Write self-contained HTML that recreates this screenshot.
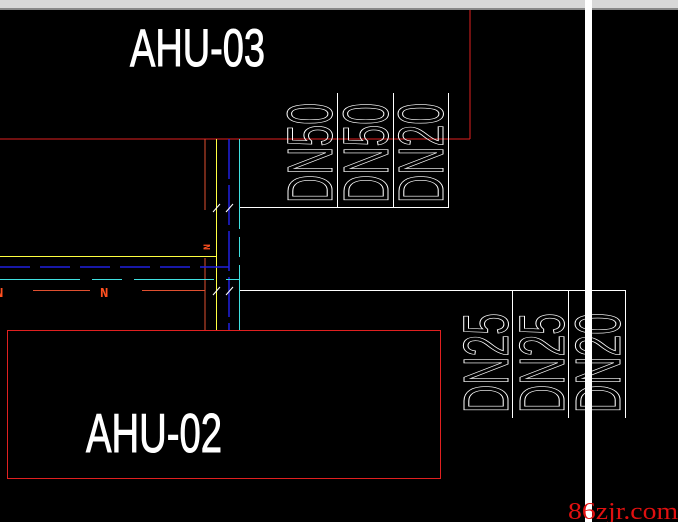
<!DOCTYPE html>
<html><head><meta charset="utf-8"><style>
html,body{margin:0;padding:0;background:#000;width:678px;height:522px;overflow:hidden}
svg{display:block}
</style></head><body>
<svg width="678" height="522" viewBox="0 0 678 522" xmlns="http://www.w3.org/2000/svg">
<rect x="0" y="0" width="678" height="522" fill="#000"/>
<rect x="0" y="0" width="678" height="9" fill="#d8d8d8"/>
<rect x="0" y="8" width="678" height="2" fill="#888"/>
<rect x="585" y="0" width="7" height="522" fill="#fff"/>

<line x1="0" y1="139" x2="470" y2="139" stroke="#e02020" stroke-width="1"/>
<line x1="470" y1="10" x2="470" y2="139" stroke="#e02020" stroke-width="1"/>
<text x="130" y="66" font-family="Liberation Sans, sans-serif" font-size="53" fill="#fff" stroke="#fff" stroke-width="1" textLength="135" lengthAdjust="spacingAndGlyphs">AHU-03</text>

<line x1="205" y1="139" x2="205" y2="210" stroke="#e05030" stroke-width="1"/>
<line x1="205" y1="258" x2="205" y2="330" stroke="#e05030" stroke-width="1"/>
<line x1="216.5" y1="139" x2="216.5" y2="330" stroke="#ffff40" stroke-width="1"/>
<line x1="229" y1="139" x2="229" y2="330" stroke="#2020e0" stroke-width="1.5" stroke-dasharray="40,6"/>
<line x1="239.5" y1="139" x2="239.5" y2="330" stroke="#40e0e0" stroke-width="1" stroke-dasharray="90,8,20,8"/>

<line x1="0" y1="256.5" x2="216" y2="256.5" stroke="#ffff40" stroke-width="1"/>
<line x1="0" y1="267" x2="229" y2="267" stroke="#2020e0" stroke-width="1.5" stroke-dasharray="30,10"/>
<line x1="0" y1="279.5" x2="239" y2="279.5" stroke="#40e0e0" stroke-width="1" stroke-dasharray="80,12,30,12"/>
<line x1="33" y1="290.5" x2="90" y2="290.5" stroke="#e05030" stroke-width="1"/>
<line x1="142" y1="290.5" x2="205" y2="290.5" stroke="#e05030" stroke-width="1"/>
<text x="100" y="297" font-family="Liberation Mono, monospace" font-size="14" font-weight="bold" fill="#ff5020">N</text>
<text x="-5" y="297" font-family="Liberation Mono, monospace" font-size="14" font-weight="bold" fill="#ff5020">N</text>
<text transform="translate(210,250) rotate(-90)" font-family="Liberation Mono, monospace" font-size="10" font-weight="bold" fill="#ff5020">N</text>

<g stroke="#fff" stroke-width="1">
<line x1="213" y1="212" x2="220" y2="204"/><line x1="226" y1="212" x2="233" y2="204"/>
<line x1="213" y1="295" x2="220" y2="287"/><line x1="226" y1="295" x2="233" y2="287"/>
</g>

<g stroke="#fff" stroke-width="1" fill="none">
<line x1="240" y1="207.5" x2="448" y2="207.5"/>
<line x1="337.5" y1="93" x2="337.5" y2="208"/>
<line x1="393.5" y1="93" x2="393.5" y2="208"/>
<line x1="448.5" y1="93" x2="448.5" y2="208"/>
</g>
<g font-family="Liberation Sans, sans-serif" font-size="64" fill="none" stroke="#fff" stroke-width="1">
<text transform="translate(332,203) rotate(-90)" textLength="100" lengthAdjust="spacingAndGlyphs">DN50</text>
<text transform="translate(388,203) rotate(-90)" textLength="100" lengthAdjust="spacingAndGlyphs">DN50</text>
<text transform="translate(443,203) rotate(-90)" textLength="100" lengthAdjust="spacingAndGlyphs">DN20</text>
</g>

<g stroke="#fff" stroke-width="1" fill="none">
<line x1="240" y1="290.5" x2="625" y2="290.5"/>
<line x1="512.5" y1="290" x2="512.5" y2="418"/>
<line x1="568.5" y1="290" x2="568.5" y2="418"/>
<line x1="625.5" y1="290" x2="625.5" y2="418"/>
</g>
<g font-family="Liberation Sans, sans-serif" font-size="64" fill="none" stroke="#fff" stroke-width="1">
<text transform="translate(508,413) rotate(-90)" textLength="100" lengthAdjust="spacingAndGlyphs">DN25</text>
<text transform="translate(564,413) rotate(-90)" textLength="100" lengthAdjust="spacingAndGlyphs">DN25</text>
<text transform="translate(620,413) rotate(-90)" textLength="100" lengthAdjust="spacingAndGlyphs">DN20</text>
</g>
<rect x="585" y="290" width="7" height="232" fill="#fff"/>

<rect x="7.5" y="330.5" width="433" height="148" fill="none" stroke="#e02020" stroke-width="1"/>
<text x="86" y="452" font-family="Liberation Sans, sans-serif" font-size="55" fill="#fff" stroke="#fff" stroke-width="1" textLength="136" lengthAdjust="spacingAndGlyphs">AHU-02</text>

<text x="568" y="519" font-family="Liberation Serif, serif" font-size="24" fill="#e01010" textLength="110" lengthAdjust="spacingAndGlyphs">86zjr.com</text>
</svg>
</body></html>
